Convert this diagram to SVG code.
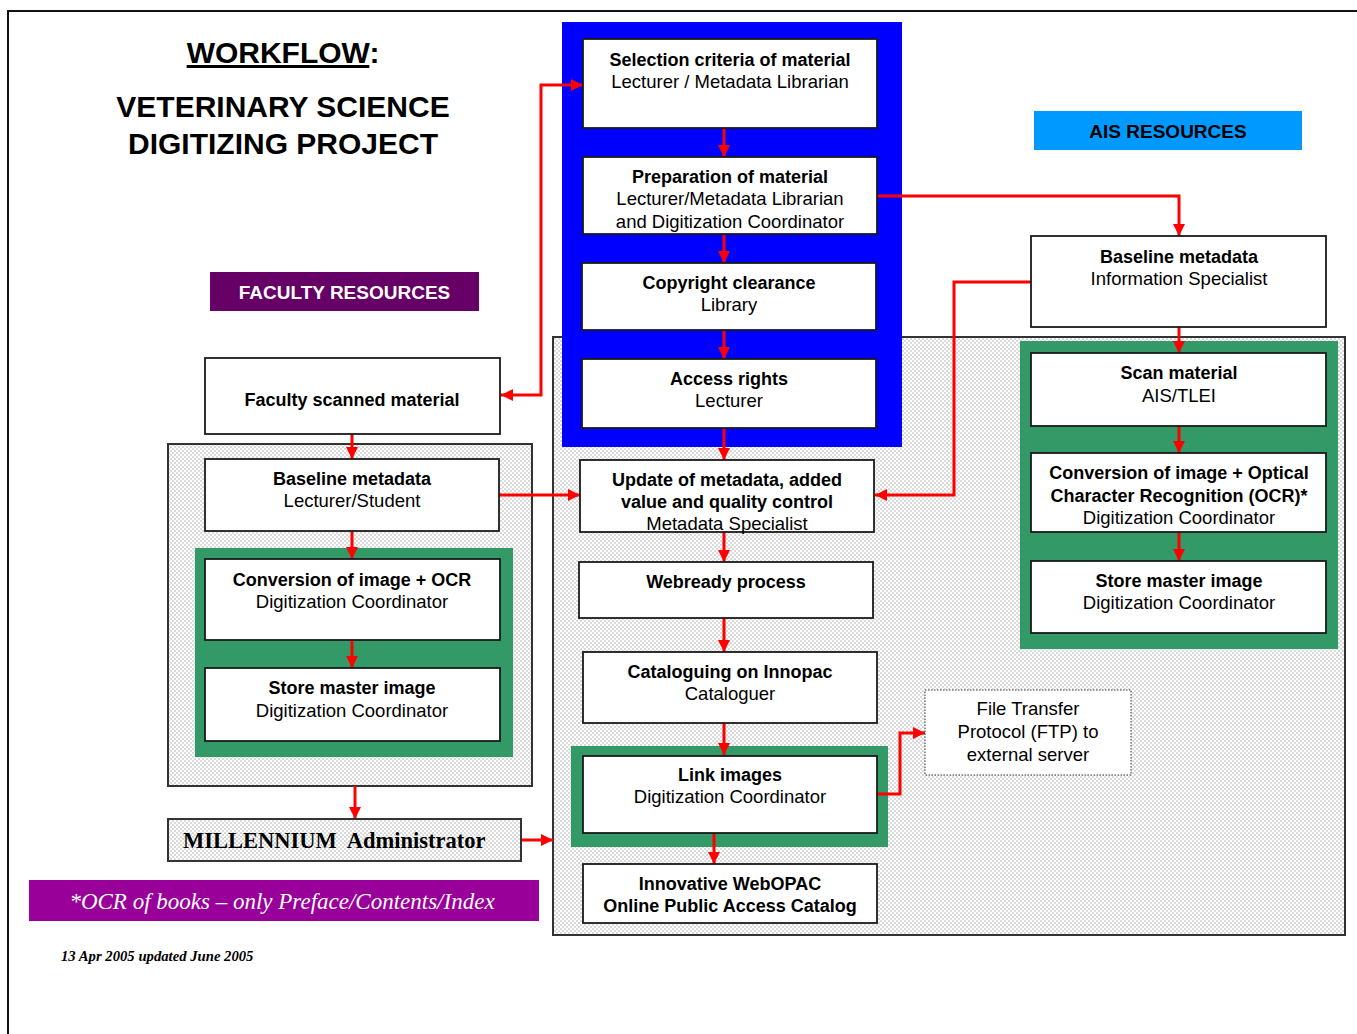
<svg xmlns="http://www.w3.org/2000/svg" width="1357" height="1034" viewBox="0 0 1357 1034">
<style>
.bx{fill:#fff;stroke:#1a1a1a;stroke-width:1.8}
.st{fill:url(#dots);stroke:#333;stroke-width:2}
.b{font-family:"Liberation Sans",Arial,sans-serif;font-weight:bold;font-size:18px;fill:#000;text-anchor:middle}
.n{font-family:"Liberation Sans",Arial,sans-serif;font-size:18.5px;fill:#000;text-anchor:middle}
.c{fill:none;stroke:#ff0000;stroke-width:3}
.t{font-family:"Liberation Sans",Arial,sans-serif;font-weight:bold;font-size:30px;fill:#000;text-anchor:middle}
</style>
<defs>
<pattern id="dots" width="4" height="4" patternUnits="userSpaceOnUse">
<rect width="4" height="4" fill="#fff"/>
<circle cx="1" cy="1" r="0.7" fill="#999"/>
<circle cx="3" cy="3" r="0.7" fill="#999"/>
</pattern>
<marker id="ah" markerUnits="userSpaceOnUse" markerWidth="13" markerHeight="12" refX="12" refY="6" orient="auto-start-reverse">
<path d="M0,0 L12,6 L0,12 z" fill="#ff0000"/>
</marker>
</defs>
<rect width="1357" height="1034" fill="#fff"/>
<path d="M8,1034 V11 H1357" fill="none" stroke="#111" stroke-width="2"/>

<g id="title">
<text class="t" x="283" y="63"><tspan text-decoration="underline">WORKFLOW</tspan>:</text>
<text class="t" x="283" y="117">VETERINARY SCIENCE</text>
<text class="t" x="283" y="154">DIGITIZING PROJECT</text>
</g>

<g id="containers">
<rect class="st" x="553" y="337" width="792" height="598"/>
<rect class="st" x="168" y="444" width="364" height="342"/>
<rect x="562" y="22" width="340" height="425" fill="#0000ff"/>
<rect x="195" y="548" width="318" height="209" fill="#339966"/>
<rect x="1020" y="341" width="318" height="308" fill="#339966"/>
<rect x="571" y="746" width="317" height="101" fill="#339966"/>
</g>

<g id="faculty-resources">
<rect x="210" y="272" width="269" height="39" fill="#660066"/>
<text class="b" x="344.5" y="299" style="font-size:19px;fill:#fff">FACULTY RESOURCES</text>
</g>
<g id="ais-resources">
<rect x="1034" y="111" width="268" height="39" fill="#0099ff"/>
<text class="b" x="1168" y="138" style="font-size:19px">AIS RESOURCES</text>
</g>

<g id="connectors">
<line class="c" x1="724" y1="128" x2="724" y2="157" marker-end="url(#ah)"/>
<line class="c" x1="724" y1="234" x2="724" y2="263" marker-end="url(#ah)"/>
<line class="c" x1="724" y1="330" x2="724" y2="359" marker-end="url(#ah)"/>
<line class="c" x1="724" y1="428" x2="724" y2="460" marker-end="url(#ah)"/>
<line class="c" x1="724" y1="532" x2="724" y2="562" marker-end="url(#ah)"/>
<line class="c" x1="724" y1="618" x2="724" y2="652" marker-end="url(#ah)"/>
<line class="c" x1="724" y1="723" x2="724" y2="755" marker-end="url(#ah)"/>
<line class="c" x1="714" y1="833" x2="714" y2="864" marker-end="url(#ah)"/>
<path class="c" d="M501,395 H541 V85 H583" marker-start="url(#ah)" marker-end="url(#ah)"/>
<line class="c" x1="352" y1="434" x2="352" y2="459" marker-end="url(#ah)"/>
<line class="c" x1="352" y1="531" x2="352" y2="559" marker-end="url(#ah)"/>
<line class="c" x1="352" y1="640" x2="352" y2="668" marker-end="url(#ah)"/>
<line class="c" x1="355" y1="786" x2="355" y2="819" marker-end="url(#ah)"/>
<line class="c" x1="521" y1="840" x2="553" y2="840" marker-end="url(#ah)"/>
<line class="c" x1="499" y1="495" x2="580" y2="495" marker-end="url(#ah)"/>
<path class="c" d="M877,196 H1179 V236" marker-end="url(#ah)"/>
<path class="c" d="M1031,282 H954 V495 H875" marker-end="url(#ah)"/>
<line class="c" x1="1179" y1="327" x2="1179" y2="353" marker-end="url(#ah)"/>
<line class="c" x1="1179" y1="426" x2="1179" y2="453" marker-end="url(#ah)"/>
<line class="c" x1="1179" y1="532" x2="1179" y2="561" marker-end="url(#ah)"/>
<path class="c" d="M877,794 H900 V733 H925" marker-end="url(#ah)"/>
</g>

<g id="selection">
<rect class="bx" x="583" y="39" width="294" height="89"/>
<text class="b" x="730" y="66">Selection criteria of material</text>
<text class="n" x="730" y="88">Lecturer / Metadata Librarian</text>
</g>
<g id="preparation">
<rect class="bx" x="583" y="157" width="294" height="77"/>
<text class="b" x="730" y="183">Preparation of material</text>
<text class="n" x="730" y="205">Lecturer/Metadata Librarian</text>
<text class="n" x="730" y="228">and Digitization Coordinator</text>
</g>
<g id="copyright">
<rect class="bx" x="582" y="263" width="294" height="67"/>
<text class="b" x="729" y="289">Copyright clearance</text>
<text class="n" x="729" y="311">Library</text>
</g>
<g id="access">
<rect class="bx" x="582" y="359" width="294" height="69"/>
<text class="b" x="729" y="385">Access rights</text>
<text class="n" x="729" y="407">Lecturer</text>
</g>
<g id="update">
<rect class="bx" x="580" y="460" width="294" height="72"/>
<text class="b" x="727" y="486">Update of metadata, added</text>
<text class="b" x="727" y="508">value and quality control</text>
<text class="n" x="727" y="530">Metadata Specialist</text>
</g>
<g id="webready">
<rect class="bx" x="579" y="562" width="294" height="56"/>
<text class="b" x="726" y="588">Webready process</text>
</g>
<g id="cataloguing">
<rect class="bx" x="583" y="652" width="294" height="71"/>
<text class="b" x="730" y="678">Cataloguing on Innopac</text>
<text class="n" x="730" y="700">Cataloguer</text>
</g>
<g id="link-images">
<rect class="bx" x="583" y="756" width="294" height="77"/>
<text class="b" x="730" y="781">Link images</text>
<text class="n" x="730" y="803">Digitization Coordinator</text>
</g>
<g id="webopac">
<rect class="bx" x="583" y="864" width="294" height="59"/>
<text class="b" x="730" y="890">Innovative WebOPAC</text>
<text class="b" x="730" y="912">Online Public Access Catalog</text>
</g>
<g id="ftp">
<rect x="925" y="690" width="206" height="85" fill="#fff" stroke="#333" stroke-width="1" stroke-dasharray="1.5,1.5"/>
<text class="n" x="1028" y="715">File Transfer</text>
<text class="n" x="1028" y="738">Protocol (FTP) to</text>
<text class="n" x="1028" y="761">external server</text>
</g>

<g id="faculty-scanned">
<rect class="bx" x="205" y="358" width="295" height="76"/>
<text class="b" x="352" y="406">Faculty scanned material</text>
</g>
<g id="baseline-left">
<rect class="bx" x="205" y="459" width="294" height="72"/>
<text class="b" x="352" y="485">Baseline metadata</text>
<text class="n" x="352" y="507">Lecturer/Student</text>
</g>
<g id="conversion-left">
<rect class="bx" x="205" y="559" width="295" height="81"/>
<text class="b" x="352" y="586">Conversion of image + OCR</text>
<text class="n" x="352" y="608">Digitization Coordinator</text>
</g>
<g id="store-left">
<rect class="bx" x="205" y="668" width="295" height="73"/>
<text class="b" x="352" y="694">Store master image</text>
<text class="n" x="352" y="717">Digitization Coordinator</text>
</g>
<g id="millennium">
<rect class="st" x="168" y="819" width="353" height="42"/>
<text x="183" y="848" xml:space="preserve" style="font-family:'Liberation Serif','Times New Roman',serif;font-weight:bold;font-size:22.5px">MILLENNIUM  Administrator</text>
</g>

<g id="baseline-right">
<rect class="bx" x="1031" y="236" width="295" height="91"/>
<text class="b" x="1179" y="263">Baseline metadata</text>
<text class="n" x="1179" y="285">Information Specialist</text>
</g>
<g id="scan">
<rect class="bx" x="1031" y="353" width="295" height="73"/>
<text class="b" x="1179" y="379">Scan material</text>
<text class="n" x="1179" y="402">AIS/TLEI</text>
</g>
<g id="conversion-right">
<rect class="bx" x="1031" y="453" width="295" height="79"/>
<text class="b" x="1179" y="479">Conversion of image + Optical</text>
<text class="b" x="1179" y="502">Character Recognition (OCR)*</text>
<text class="n" x="1179" y="524">Digitization Coordinator</text>
</g>
<g id="store-right">
<rect class="bx" x="1031" y="561" width="295" height="72"/>
<text class="b" x="1179" y="587">Store master image</text>
<text class="n" x="1179" y="609">Digitization Coordinator</text>
</g>

<g id="footnote">
<rect x="29" y="880" width="510" height="41" fill="#990099"/>
<text x="282" y="909" style="font-family:'Liberation Serif','Times New Roman',serif;font-style:italic;font-size:23px;fill:#fff;text-anchor:middle">*OCR of books – only Preface/Contents/Index</text>
</g>
<g id="date">
<text x="61" y="961" style="font-family:'Liberation Serif','Times New Roman',serif;font-style:italic;font-weight:bold;font-size:14.7px">13 Apr 2005 updated June 2005</text>
</g>
</svg>
